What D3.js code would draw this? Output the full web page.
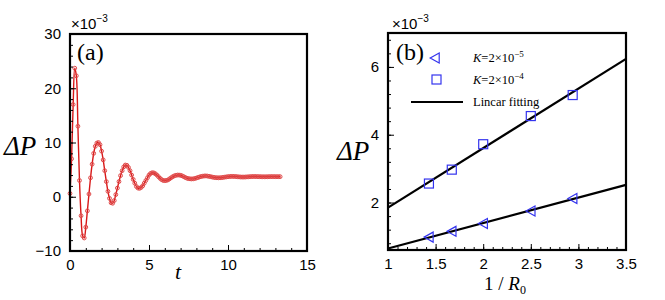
<!DOCTYPE html>
<html>
<head>
<meta charset="utf-8">
<script src="https://cdn.jsdelivr.net/npm/d3@7"></script>
<style>
  body { margin: 0; background: #fff; }
  svg { display: block; }
  .tick text { font-family: "Liberation Sans", Arial, sans-serif; font-size: 15px; fill: #000; }
  .serif { font-family: "Liberation Serif", "Times New Roman", serif; }
</style>
</head>
<body>
<svg id="chart" width="665" height="300"></svg>
<script>
'use strict';

// panel (a): pressure drop vs time (values x1e-3)
var timeA = [0.0, 0.1, 0.2, 0.3, 0.4, 0.5, 0.6, 0.7, 0.8, 0.9,
  1.0, 1.1, 1.2, 1.3, 1.4, 1.5, 1.6, 1.7, 1.8, 1.9,
  2.0, 2.1, 2.2, 2.3, 2.4, 2.5, 2.6, 2.7, 2.8, 2.9,
  3.0, 3.1, 3.2, 3.3, 3.4, 3.5, 3.6, 3.7, 3.8, 3.9,
  4.0, 4.1, 4.2, 4.3, 4.4, 4.5, 4.6, 4.7, 4.8, 4.9,
  5.0, 5.1, 5.2, 5.3, 5.4, 5.5, 5.6, 5.7, 5.8, 5.9,
  6.0, 6.1, 6.2, 6.3, 6.4, 6.5, 6.6, 6.7, 6.8, 6.9,
  7.0, 7.1, 7.2, 7.3, 7.4, 7.5, 7.6, 7.7, 7.8, 7.9,
  8.0, 8.1, 8.2, 8.3, 8.4, 8.5, 8.6, 8.7, 8.8, 8.9,
  9.0, 9.1, 9.2, 9.3, 9.4, 9.5, 9.6, 9.7, 9.8, 9.9,
  10.0, 10.1, 10.2, 10.3, 10.4, 10.5, 10.6, 10.7, 10.8, 10.9,
  11.0, 11.1, 11.2, 11.3, 11.4, 11.5, 11.6, 11.7, 11.8, 11.9,
  12.0, 12.1, 12.2, 12.3, 12.4, 12.5, 12.6, 12.7, 12.8, 12.9,
  13.0, 13.1, 13.2, 13.3];
var deltaPA = [0.6, 7.0, 17.0, 23.7, 22.3, 13.0, 3.0, -3.5, -7.2, -7.6,
  -5.6, -2.6, 0.5, 3.5, 6.0, 8.0, 9.3, 9.9, 10.0, 9.6,
  8.4, 6.8, 4.8, 2.8, 1.0, -0.3, -1.1, -1.2, -0.7, 0.4,
  1.6, 2.8, 3.9, 4.8, 5.5, 5.85, 5.8, 5.4, 4.8, 4.0,
  3.2, 2.5, 1.9, 1.6, 1.55, 1.7, 2.0, 2.5, 3.0, 3.5,
  4.0, 4.3, 4.43, 4.4, 4.25, 4.0, 3.7, 3.4, 3.15, 3.0,
  2.97, 3.0, 3.1, 3.3, 3.5, 3.7, 3.85, 3.95, 4.0, 4.0,
  3.95, 3.85, 3.7, 3.55, 3.42, 3.34, 3.3, 3.28, 3.3, 3.37,
  3.45, 3.55, 3.65, 3.73, 3.79, 3.83, 3.84, 3.81, 3.76, 3.7,
  3.63, 3.57, 3.53, 3.5, 3.49, 3.5, 3.53, 3.57, 3.62, 3.66,
  3.7, 3.73, 3.75, 3.75, 3.74, 3.72, 3.69, 3.66, 3.64, 3.63,
  3.63, 3.64, 3.66, 3.68, 3.7, 3.72, 3.73, 3.73, 3.72, 3.71,
  3.7, 3.69, 3.68, 3.68, 3.68, 3.69, 3.7, 3.71, 3.71, 3.71,
  3.7, 3.7, 3.7, 3.7];

// panel (b): pressure drop vs 1/R0 (values x1e-3)
var invR0 = [1.43, 1.67, 2.0, 2.5, 2.94];
var deltaPK5 = [0.98, 1.15, 1.38, 1.75, 2.12];
var deltaPK4 = [2.56, 2.97, 3.72, 4.55, 5.17];

var xTicksA = [0, 5, 10, 15];
var yTicksA = [-10, 0, 10, 20, 30];
var xTicksB = [1, 1.5, 2, 2.5, 3, 3.5];
var yTicksB = [2, 4, 6];
var legendLabels = ["K=2\u00d710", "K=2\u00d710", "Lincar fitting"];
var legendExps = ["\u22125", "\u22124", ""];

var svg = d3.select("#chart");

// simple least squares fit
var fitLine = function(xs, ys) {
  var mx = d3.mean(xs), my = d3.mean(ys);
  var sxy = d3.sum(xs, function(x, i) { return (x - mx) * (ys[i] - my); });
  var sxx = d3.sum(xs, function(x) { return (x - mx) * (x - mx); });
  var k = sxy / sxx;
  return { k: k, b: my - k * mx };
};

// draws frame, inward ticks, tick labels
var drawFrame = function(g, x, y, xt, yt, xMinor, yMinor) {
  var xr = x.range(), yr = y.range();
  g.append("g").attr("transform", "translate(0," + yr[0] + ")")
    .call(d3.axisBottom(x).tickValues(xMinor).tickSize(-3).tickFormat(""))
    .call(function(a) { a.select(".domain").remove(); });
  g.append("g").attr("transform", "translate(0," + yr[0] + ")")
    .call(d3.axisBottom(x).tickValues(xt).tickSize(-6).tickPadding(8).tickFormat(d3.format("")))
    .call(function(a) { a.select(".domain").remove(); });
  g.append("g").attr("transform", "translate(" + xr[0] + ",0)")
    .call(d3.axisLeft(y).tickValues(yMinor).tickSize(-3).tickFormat(""))
    .call(function(a) { a.select(".domain").remove(); });
  g.append("g").attr("transform", "translate(" + xr[0] + ",0)")
    .call(d3.axisLeft(y).tickValues(yt).tickSize(-6).tickPadding(9).tickFormat(d3.format("")))
    .call(function(a) { a.select(".domain").remove(); });
  g.selectAll(".tick line").attr("stroke", "#000").attr("stroke-width", 1);
  g.append("rect")
    .attr("x", xr[0]).attr("y", yr[1])
    .attr("width", xr[1] - xr[0]).attr("height", yr[0] - yr[1])
    .attr("fill", "none").attr("stroke", "#000").attr("stroke-width", 2.2);
};

var drawExp = function(g, xPos, yPos) {
  var t = g.append("text").attr("x", xPos).attr("y", yPos)
    .style("font-family", "'Liberation Sans', Arial, sans-serif").style("font-size", "15px");
  t.append("tspan").text("\u00d710");
  t.append("tspan").attr("dy", -7).style("font-size", "10px").text("\u22123");
};

var drawDeltaP = function(g, xPos, yPos) {
  g.append("text").attr("class", "serif").attr("x", xPos).attr("y", yPos)
    .style("font-size", "27px").style("font-style", "italic").text("\u0394P");
};

// ---------- panel (a) ----------
var xA = d3.scaleLinear().domain([0, 15]).range([70, 307]);
var yA = d3.scaleLinear().domain([-10, 30]).range([251, 34]);
var gA = svg.append("g");

var lineA = d3.line()
  .x(function(d, i) { return xA(timeA[i]); })
  .y(function(d) { return yA(d); })
  .curve(d3.curveCatmullRom);

gA.append("path").datum(deltaPA)
  .attr("d", lineA).attr("fill", "none")
  .attr("stroke", "#d81818").attr("stroke-width", 1.4);

gA.selectAll("circle.pt").data(deltaPA).enter()
  .append("circle").attr("class", "pt")
  .attr("cx", function(d, i) { return xA(timeA[i]); })
  .attr("cy", function(d) { return yA(d); })
  .attr("r", 1.9)
  .attr("fill", "none").attr("stroke", "#e04848").attr("stroke-width", 1);

drawFrame(gA, xA, yA, xTicksA, yTicksA, d3.range(0, 15.01, 1), d3.range(-10, 30.01, 2));
drawExp(gA, 71, 29);
drawDeltaP(gA, 4, 155);
gA.append("text").attr("class", "serif").attr("x", 77).attr("y", 60)
  .style("font-size", "24px").text("(a)");
gA.append("text").attr("class", "serif").attr("x", 178).attr("y", 279)
  .attr("text-anchor", "middle").style("font-size", "22px").style("font-style", "italic").text("t");

// ---------- panel (b) ----------
var xB = d3.scaleLinear().domain([1, 3.5]).range([388, 626]);
var yB = d3.scaleLinear().domain([0.6, 7]).range([250, 33]);
var gB = svg.append("g");

[deltaPK5, deltaPK4].forEach(function(ys) {
  var f = fitLine(invR0, ys);
  var ends = xB.domain();
  gB.append("line")
    .attr("x1", xB(ends[0])).attr("y1", yB(f.k * ends[0] + f.b))
    .attr("x2", xB(ends[1])).attr("y2", yB(f.k * ends[1] + f.b))
    .attr("stroke", "#000").attr("stroke-width", 2.2);
});

var blue = "#3434ee";
var triPath = "M-4.8,0L4.2,-5L4.2,5Z";

gB.selectAll("path.tri").data(deltaPK5).enter()
  .append("path").attr("class", "tri").attr("d", triPath)
  .attr("transform", function(d, i) { return "translate(" + xB(invR0[i]) + "," + yB(d) + ")"; })
  .attr("fill", "none").attr("stroke", blue).attr("stroke-width", 1.2);

gB.selectAll("rect.sq").data(deltaPK4).enter()
  .append("rect").attr("class", "sq")
  .attr("x", function(d, i) { return xB(invR0[i]) - 4.5; })
  .attr("y", function(d) { return yB(d) - 4.5; })
  .attr("width", 9).attr("height", 9)
  .attr("fill", "none").attr("stroke", blue).attr("stroke-width", 1.2);

drawFrame(gB, xB, yB, xTicksB, yTicksB, d3.range(1, 3.501, 0.1), d3.range(0.8, 7, 0.4));
drawExp(gB, 392, 29);
drawDeltaP(gB, 337, 160);
gB.append("text").attr("class", "serif").attr("x", 396).attr("y", 60)
  .style("font-size", "24px").text("(b)");

var xLab = gB.append("text").attr("class", "serif").attr("x", 505).attr("y", 290)
  .attr("text-anchor", "middle").style("font-size", "19px");
xLab.append("tspan").text("1 / ");
xLab.append("tspan").style("font-style", "italic").text("R");
xLab.append("tspan").attr("dy", 4).style("font-size", "12px").text("0");

// legend
var legend = gB.append("g");
legend.append("path").attr("d", triPath).attr("transform", "translate(435,58)")
  .attr("fill", "none").attr("stroke", blue).attr("stroke-width", 1.2);
legend.append("rect").attr("x", 432).attr("y", 75).attr("width", 9).attr("height", 9)
  .attr("fill", "none").attr("stroke", blue).attr("stroke-width", 1.2);
legend.append("line").attr("x1", 411).attr("x2", 463).attr("y1", 102).attr("y2", 102)
  .attr("stroke", "#000").attr("stroke-width", 2.2);

legendLabels.forEach(function(lab, i) {
  var t = legend.append("text").attr("class", "serif")
    .attr("x", 473).attr("y", 62 + i * 22).style("font-size", "12.5px");
  if (i < 2) {
    t.append("tspan").style("font-style", "italic").text("K");
    t.append("tspan").text(lab.slice(1));
    t.append("tspan").attr("dy", -5).style("font-size", "9px").text(legendExps[i]);
  } else {
    t.text(lab);
  }
});
</script>
</body>
</html>
